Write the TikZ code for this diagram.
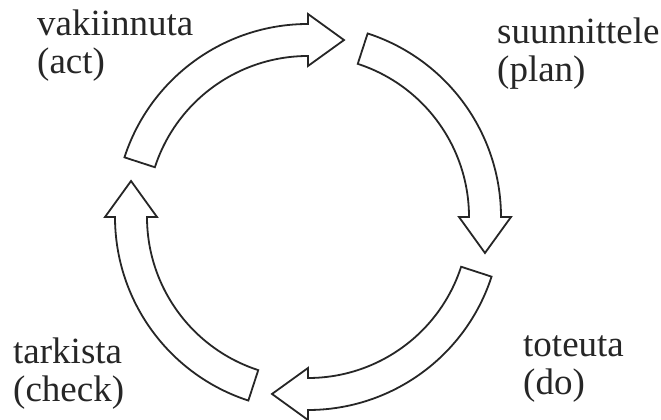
\documentclass[tikz,border=0pt]{standalone}
\usepackage{fontspec}
\setmainfont{Liberation Serif}

\begin{document}
\begin{tikzpicture}[x=1pt, y=1pt,
        phase/.style={anchor=base west, inner sep=0pt, align=left, text=black!85,
            font=\fontsize{37}{38.5}\selectfont},
        cyclearrow/.style={draw=black!85, line width=1.8pt, fill=white, line join=miter}
    ]
        \useasboundingbox (0,0) rectangle (661,420);
        \coordinate (centre) at (308,203);

        % four curved arrows round the cycle, heads pointing clockwise
        \foreach \headang in {90,0,-90,180} {
            \pgfmathsetmacro{\tailang}{\headang+72}
            \draw[cyclearrow, shift={(centre)}]
                (\tailang:193pt) arc[start angle=\tailang, end angle=\headang, radius=193pt]
                -- (\headang:203pt) -- (\headang-11.5:180.6pt) -- (\headang:151pt)
                -- (\headang:161pt) arc[start angle=\headang, end angle=\tailang, radius=161pt]
                -- cycle;
        }

        % phase labels (anchored on the baseline of the second line)
        \node[phase] (vakiinnuta) at (37,346) {vakiinnuta\\(act)};
        \node[phase] (suunnittele) at (497,338) {suunnittele\\(plan)};
        \node[phase] (toteuta) at (523,25) {toteuta\\(do)};
        \node[phase] (tarkista) at (13,18) {tarkista\\(check)};
    \end{tikzpicture}
\end{document}
